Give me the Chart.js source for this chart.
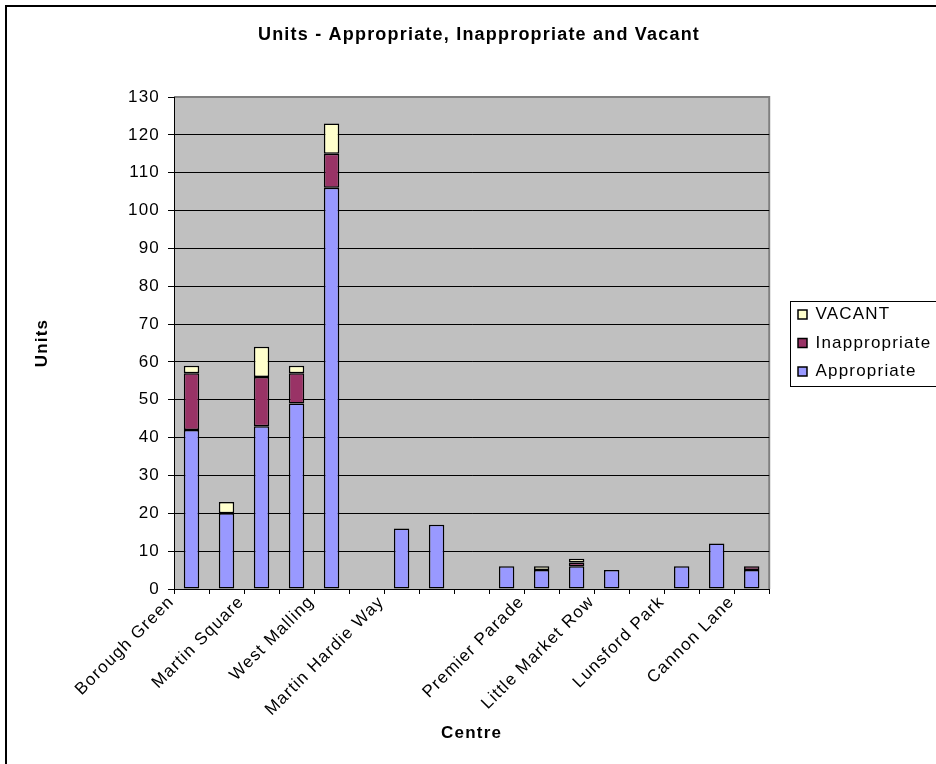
<!DOCTYPE html>
<html>
<head>
<meta charset="utf-8">
<title>Units - Appropriate, Inappropriate and Vacant</title>
<script src="https://cdn.jsdelivr.net/npm/chart.js@4/dist/chart.umd.min.js"></script>
<style>
  html, body { margin: 0; padding: 0; background: #fff; overflow: hidden; }
  canvas { display: block; }
</style>
</head>
<body>
<canvas id="unitsChart" width="936" height="764"></canvas>
<script>
// Centres (Excel only printed every other name, the others are unknown)
const centres = ['Borough Green', '', 'Martin Square', '', 'West Malling', '', 'Martin Hardie Way', '', '',
                 '', 'Premier Parade', '', 'Little Market Row', '', 'Lunsford Park', '', 'Cannon Lane'];

// Unit counts per centre (null = no bar)
const appropriate   = [42, 20, 43, 49, 106, null, 16, 17, null, 6, 5, 6, 5, null, 6, 12, 5];
const inappropriate = [15, null, 13, 8, 9, null, null, null, null, null, null, 1, null, null, null, null, 1];
const vacant        = [2, 3, 8, 2, 8, null, null, null, null, null, 1, 1, null, null, null, null, null];

const yTicksMax = 130;
const yTicksStep = 10;

// Excel draws text with a bit of tracking
const LETTER_SPACING = '1.2px';
const TITLE_CENTER = 479;
const LEGEND_LEFT = 786.5;

Chart.defaults.font.family = 'Arial, "Liberation Sans", sans-serif';
Chart.defaults.color = '#000';

// Background, outer frame, grey plot area and the legend frame
const excelLook = {
    id: 'excelLook',
    beforeUpdate(chart) {
        chart.ctx.letterSpacing = LETTER_SPACING;
    },
    afterLayout(chart) {
        const lg = chart.legend;
        const dx = LEGEND_LEFT - lg.left;
        lg.left += dx;
        lg.right += dx;
        const t = chart.titleBlock;
        const tx = TITLE_CENTER - (t.left + t.right) / 2;
        t.left += tx;
        t.right += tx;
    },
    beforeDraw(chart) {
        const ctx = chart.ctx;
        const a = chart.chartArea;
        ctx.save();
        ctx.fillStyle = '#fff';
        ctx.fillRect(0, 0, chart.width, chart.height);
        ctx.strokeStyle = '#000';
        ctx.lineWidth = 2;
        ctx.strokeRect(6, 6, chart.width + 50, chart.height + 50);
        ctx.fillStyle = '#c0c0c0';
        ctx.fillRect(a.left, a.top, a.right - a.left, a.bottom - a.top);
        ctx.strokeStyle = '#808080';
        ctx.lineWidth = 2;
        ctx.beginPath();
        ctx.moveTo(a.left, a.top);
        ctx.lineTo(a.right, a.top);
        ctx.lineTo(a.right, a.bottom);
        ctx.stroke();
        ctx.restore();
        ctx.letterSpacing = LETTER_SPACING;
    },
    afterDraw(chart) {
        const boxes = chart.legend.legendHitBoxes;
        if (!boxes || !boxes.length) return;
        const first = boxes[0];
        const last = boxes[boxes.length - 1];
        const ctx = chart.ctx;
        ctx.save();
        ctx.strokeStyle = '#000';
        ctx.lineWidth = 1;
        const top = Math.round(first.top - 5.5) + 0.5;
        const bottom = Math.round(last.top + last.height + 5.5) + 0.5;
        ctx.strokeRect(Math.round(first.left - 8) + 0.5, top, 400, bottom - top);
        ctx.restore();
    }
};

const ctx = document.getElementById('unitsChart');

new Chart(ctx, {
    type: 'bar',
    data: {
        labels: centres,
        datasets: [
            {
                label: 'Appropriate',
                data: appropriate,
                backgroundColor: '#9999ff',
                borderColor: '#000',
                borderWidth: 1.5,
                borderSkipped: false
            },
            {
                label: 'Inappropriate',
                data: inappropriate,
                backgroundColor: '#993366',
                borderColor: '#000',
                borderWidth: 1.5,
                borderSkipped: false
            },
            {
                label: 'VACANT',
                data: vacant,
                backgroundColor: '#ffffcc',
                borderColor: '#000',
                borderWidth: 1.5,
                borderSkipped: false
            }
        ]
    },
    options: {
        responsive: false,
        animation: false,
        devicePixelRatio: 1,
        layout: {
            padding: { left: 20, right: 12, top: 0, bottom: 0 }
        },
        datasets: {
            bar: {
                categoryPercentage: 1,
                barPercentage: 0.44
            }
        },
        plugins: {
            title: {
                display: true,
                text: 'Units - Appropriate, Inappropriate and Vacant',
                font: { size: 18, weight: 'bold' },
                padding: { top: 24, bottom: 51.4 }
            },
            legend: {
                position: 'right',
                fullSize: false,
                reverse: true,
                labels: {
                    boxWidth: 9,
                    boxHeight: 9,
                    padding: 11.5,
                    font: { size: 17 }
                }
            },
            tooltip: { enabled: false }
        },
        scales: {
            x: {
                stacked: true,
                offset: true,
                afterFit: function(scale) {
                    scale.height = 175;
                },
                grid: {
                    display: true,
                    offset: true,
                    drawOnChartArea: false,
                    drawTicks: true,
                    tickLength: 5,
                    tickColor: '#000'
                },
                border: { color: '#000', width: 1 },
                ticks: {
                    autoSkip: false,
                    minRotation: 45,
                    maxRotation: 45,
                    labelOffset: -20,
                    padding: -2,
                    font: { size: 17 }
                },
                title: {
                    display: true,
                    text: 'Centre',
                    font: { size: 17, weight: 'bold' },
                    padding: { top: 0, bottom: 20.3 }
                }
            },
            y: {
                stacked: true,
                min: 0,
                max: yTicksMax,
                afterFit: function(scale) {
                    scale.width = 154;
                },
                grid: {
                    color: function(c) {
                        return c.tick && c.tick.value === yTicksMax ? 'rgba(0,0,0,0)' : '#000';
                    },
                    tickColor: '#000',
                    tickLength: 6,
                    lineWidth: 1
                },
                border: { color: '#000', width: 1 },
                ticks: {
                    stepSize: yTicksStep,
                    padding: 8,
                    font: { size: 17 }
                },
                title: {
                    display: true,
                    text: 'Units',
                    font: { size: 17, weight: 'bold' },
                    padding: { top: 11.8, bottom: 0 }
                }
            }
        }
    },
    plugins: [excelLook]
});
</script>
</body>
</html>
